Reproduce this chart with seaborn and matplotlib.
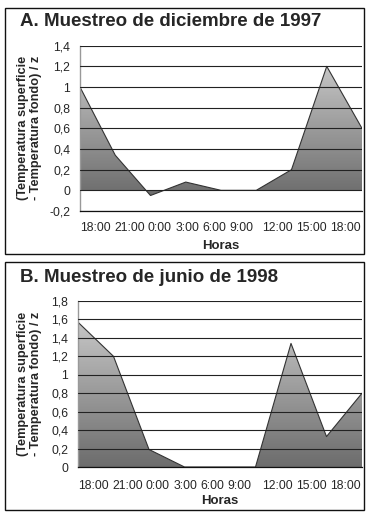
import numpy as np
import matplotlib
matplotlib.use('Agg')
import matplotlib.pyplot as plt
import seaborn as sns
from matplotlib.colors import LinearSegmentedColormap
from matplotlib.patches import Rectangle

# Data
horas = ['18:00', '21:00', '0:00', '3:00', '6:00', '9:00', '12:00', '15:00', '18:00']
dic_1997 = [1.0, 0.34, -0.05, 0.08, 0.0, 0.0, 0.2, 1.2, 0.6]
jun_1998 = [1.57, 1.2, 0.19, 0.0, 0.0, 0.0, 1.34, 0.33, 0.8]

sns.set_style("white")
plt.rcParams['font.family'] = ['Liberation Sans', 'DejaVu Sans']

W, H = 368, 516
fig = plt.figure(figsize=(W / 100, H / 100), dpi=100)
renderer = fig.canvas.get_renderer()
gray_cmap = LinearSegmentedColormap.from_list('g', ['#6c6c6c', '#c6c6c6'])
TICK_FS = 8.8


def px_axes(x0, y0, x1, y1):
    return fig.add_axes([x0 / W, 1 - y1 / H, (x1 - x0) / W, (y1 - y0) / H])


def text_w(s):
    t = fig.text(0, 0, s, fontsize=TICK_FS)
    w = t.get_window_extent(renderer).width
    t.remove()
    return w


def hour_labels(x0, x1, y):
    # Excel-style packed labels: first six run from the left, last three from the right
    sp = text_w('0 0') - text_w('00')
    x = x0
    for lab in horas[:6]:
        fig.text(x / W, 1 - y / H, lab, ha='left', va='center', fontsize=TICK_FS)
        x += text_w(lab) + sp
    x = x1
    for lab in reversed(horas[6:]):
        fig.text(x / W, 1 - y / H, lab, ha='right', va='center', fontsize=TICK_FS)
        x -= text_w(lab) + sp


def draw_panel(ax, values, ylim, yticks, title, frame, title_y, tick_y, horas_y, ax_px):
    x = np.arange(len(values))
    vals = np.array(values)
    # gradient fill clipped to the area
    poly = ax.fill_between(x, 0, vals, color='none', lw=0)
    grad = np.linspace(0, 1, 256).reshape(-1, 1)
    im = ax.imshow(grad, cmap=gray_cmap, origin='lower', aspect='auto',
                   extent=[0, 8, min(vals.min(), 0), vals.max()], zorder=1)
    im.set_clip_path(poly.get_paths()[0], transform=ax.transData)
    sns.lineplot(x=x, y=vals, ax=ax, color='#333333', lw=0.8, zorder=2)

    ax.set_xlim(0, 8)
    ax.set_ylim(*ylim)
    ax.set_yticks(yticks)
    ax.set_yticklabels([('%g' % t).replace('.', ',') for t in yticks], fontsize=TICK_FS)
    ax.set_xticks([])
    ax.set_xlabel('')
    ax.set_ylabel('')
    hour_labels(ax_px[0], ax_px[2] - 1, tick_y)
    fig.text((ax_px[0] + ax_px[2]) / 2 / W, 1 - horas_y / H, 'Horas', ha='center',
             va='center', fontsize=9.5, fontweight='bold')
    for t in yticks:
        ax.axhline(t, color='#222222', lw=0.8, zorder=3)
    ax.tick_params(axis='y', length=0, pad=7)
    for s in ['top', 'right']:
        ax.spines[s].set_visible(False)
    ax.spines['left'].set_color('#999999')
    ax.spines['left'].set_linewidth(1.0)
    ax.spines['bottom'].set_color('#111111')
    ax.spines['bottom'].set_linewidth(0.9)
    fig.text(29.5 / W, 1 - (ax_px[1] + ax_px[3]) / 2 / H,
             '(Temperatura superficie\n- Temperatura fondo) / z', rotation=90,
             ha='center', va='center', fontsize=9.2, fontweight='bold', linespacing=1.05)
    fig.text(20 / W, 1 - title_y / H, title, ha='left', va='center',
             fontsize=13.5, fontweight='bold')
    fx0, fy0, fx1, fy1 = frame
    fig.patches.append(Rectangle((fx0 / W, 1 - fy1 / H), (fx1 - fx0) / W, (fy1 - fy0) / H,
                                 transform=fig.transFigure, fill=False,
                                 edgecolor='#111111', lw=1.0))


pos_a = (80, 45.7, 362, 211)
ax_a = px_axes(*pos_a)
draw_panel(ax_a, dic_1997, (-0.2, 1.4), [-0.2, 0, 0.2, 0.4, 0.6, 0.8, 1.0, 1.2, 1.4],
           'A. Muestreo de diciembre de 1997', (5, 8, 364, 254), 22, 228, 246, pos_a)

pos_b = (78, 301, 362, 467)
ax_b = px_axes(*pos_b)
draw_panel(ax_b, jun_1998, (0, 1.8), [0, 0.2, 0.4, 0.6, 0.8, 1.0, 1.2, 1.4, 1.6, 1.8],
           'B. Muestreo de junio de 1998', (5, 262, 364, 510), 278, 486, 501, pos_b)

fig.savefig('out.png', dpi=100)
